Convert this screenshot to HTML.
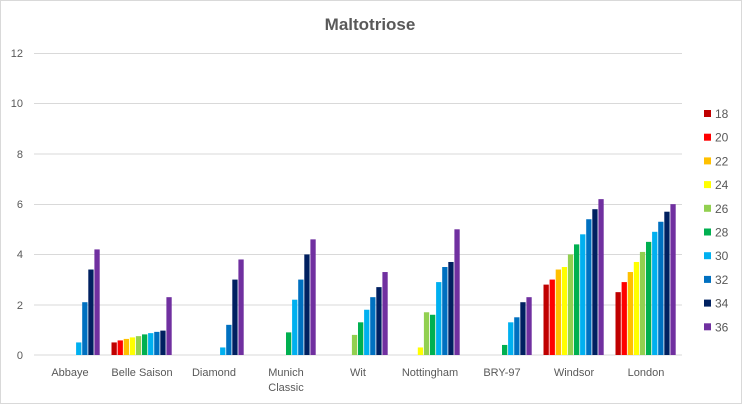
<!DOCTYPE html>
<html><head><meta charset="utf-8"><style>
html,body{margin:0;padding:0;background:#fff;}
svg{display:block;font-family:"Liberation Sans",sans-serif;}
</style></head><body>
<svg width="742" height="404" viewBox="0 0 742 404" xmlns="http://www.w3.org/2000/svg">
<rect x="0.5" y="0.5" width="741" height="403" fill="#fff" stroke="#d9d9d9"/>
<text x="370" y="30" text-anchor="middle" font-size="17" font-weight="bold" fill="#595959">Maltotriose</text>
<g stroke="#d9d9d9" stroke-width="1">
<line x1="34" x2="682" y1="53.5" y2="53.5"/>
<line x1="34" x2="682" y1="103.5" y2="103.5"/>
<line x1="34" x2="682" y1="154" y2="154"/>
<line x1="34" x2="682" y1="204.5" y2="204.5"/>
<line x1="34" x2="682" y1="254.5" y2="254.5"/>
<line x1="34" x2="682" y1="305" y2="305"/>
<line x1="34" x2="682" y1="355" y2="355"/>
</g>
<g font-size="11" fill="#595959" text-anchor="end">
<text x="23" y="57">12</text><text x="23" y="107">10</text><text x="23" y="158">8</text>
<text x="23" y="208">6</text><text x="23" y="258">4</text><text x="23" y="309">2</text><text x="23" y="359">0</text>
</g>
<g font-size="11" fill="#595959" text-anchor="middle">
<text x="70" y="376">Abbaye</text><text x="142" y="376">Belle Saison</text><text x="214" y="376">Diamond</text>
<text x="286" y="376">Munich</text><text x="286" y="391">Classic</text>
<text x="358" y="376">Wit</text><text x="430" y="376">Nottingham</text><text x="502" y="376">BRY-97</text>
<text x="574" y="376">Windsor</text><text x="646" y="376">London</text>
</g>
<g transform="translate(0,355) scale(1,-25.14)">
<g transform="translate(39.5,0)">
<rect x="36.6" width="5.3" height="0.5" fill="#00B0F0"/><rect x="42.7" width="5.3" height="2.1" fill="#0070C0"/><rect x="48.8" width="5.3" height="3.4" fill="#002060"/><rect x="54.9" width="5.3" height="4.2" fill="#7030A0"/>
</g>
<g transform="translate(111.5,0)">
<rect x="0" width="5.3" height="0.5" fill="#C00000"/><rect x="6.1" width="5.3" height="0.58" fill="#FF0000"/><rect x="12.2" width="5.3" height="0.64" fill="#FFC000"/><rect x="18.3" width="5.3" height="0.7" fill="#FFFF00"/><rect x="24.4" width="5.3" height="0.75" fill="#92D050"/><rect x="30.5" width="5.3" height="0.82" fill="#00B050"/><rect x="36.6" width="5.3" height="0.87" fill="#00B0F0"/><rect x="42.7" width="5.3" height="0.92" fill="#0070C0"/><rect x="48.8" width="5.3" height="0.97" fill="#002060"/><rect x="54.9" width="5.3" height="2.3" fill="#7030A0"/>
</g>
<g transform="translate(183.5,0)">
<rect x="36.6" width="5.3" height="0.3" fill="#00B0F0"/><rect x="42.7" width="5.3" height="1.2" fill="#0070C0"/><rect x="48.8" width="5.3" height="3.0" fill="#002060"/><rect x="54.9" width="5.3" height="3.8" fill="#7030A0"/>
</g>
<g transform="translate(255.5,0)">
<rect x="30.5" width="5.3" height="0.9" fill="#00B050"/><rect x="36.6" width="5.3" height="2.2" fill="#00B0F0"/><rect x="42.7" width="5.3" height="3.0" fill="#0070C0"/><rect x="48.8" width="5.3" height="4.0" fill="#002060"/><rect x="54.9" width="5.3" height="4.6" fill="#7030A0"/>
</g>
<g transform="translate(327.5,0)">
<rect x="24.4" width="5.3" height="0.8" fill="#92D050"/><rect x="30.5" width="5.3" height="1.3" fill="#00B050"/><rect x="36.6" width="5.3" height="1.8" fill="#00B0F0"/><rect x="42.7" width="5.3" height="2.3" fill="#0070C0"/><rect x="48.8" width="5.3" height="2.7" fill="#002060"/><rect x="54.9" width="5.3" height="3.3" fill="#7030A0"/>
</g>
<g transform="translate(399.5,0)">
<rect x="18.3" width="5.3" height="0.3" fill="#FFFF00"/><rect x="24.4" width="5.3" height="1.7" fill="#92D050"/><rect x="30.5" width="5.3" height="1.6" fill="#00B050"/><rect x="36.6" width="5.3" height="2.9" fill="#00B0F0"/><rect x="42.7" width="5.3" height="3.5" fill="#0070C0"/><rect x="48.8" width="5.3" height="3.7" fill="#002060"/><rect x="54.9" width="5.3" height="5.0" fill="#7030A0"/>
</g>
<g transform="translate(471.5,0)">
<rect x="30.5" width="5.3" height="0.4" fill="#00B050"/><rect x="36.6" width="5.3" height="1.3" fill="#00B0F0"/><rect x="42.7" width="5.3" height="1.5" fill="#0070C0"/><rect x="48.8" width="5.3" height="2.1" fill="#002060"/><rect x="54.9" width="5.3" height="2.3" fill="#7030A0"/>
</g>
<g transform="translate(543.5,0)">
<rect x="0" width="5.3" height="2.8" fill="#C00000"/><rect x="6.1" width="5.3" height="3.0" fill="#FF0000"/><rect x="12.2" width="5.3" height="3.4" fill="#FFC000"/><rect x="18.3" width="5.3" height="3.5" fill="#FFFF00"/><rect x="24.4" width="5.3" height="4.0" fill="#92D050"/><rect x="30.5" width="5.3" height="4.4" fill="#00B050"/><rect x="36.6" width="5.3" height="4.8" fill="#00B0F0"/><rect x="42.7" width="5.3" height="5.4" fill="#0070C0"/><rect x="48.8" width="5.3" height="5.8" fill="#002060"/><rect x="54.9" width="5.3" height="6.2" fill="#7030A0"/>
</g>
<g transform="translate(615.5,0)">
<rect x="0" width="5.3" height="2.5" fill="#C00000"/><rect x="6.1" width="5.3" height="2.9" fill="#FF0000"/><rect x="12.2" width="5.3" height="3.3" fill="#FFC000"/><rect x="18.3" width="5.3" height="3.7" fill="#FFFF00"/><rect x="24.4" width="5.3" height="4.1" fill="#92D050"/><rect x="30.5" width="5.3" height="4.5" fill="#00B050"/><rect x="36.6" width="5.3" height="4.9" fill="#00B0F0"/><rect x="42.7" width="5.3" height="5.3" fill="#0070C0"/><rect x="48.8" width="5.3" height="5.7" fill="#002060"/><rect x="54.9" width="5.3" height="6.0" fill="#7030A0"/>
</g>
</g>
<g font-size="12" fill="#595959">
<rect x="704" y="110" width="7" height="7" fill="#C00000"/><text x="715" y="118">18</text>
<rect x="704" y="133.7" width="7" height="7" fill="#FF0000"/><text x="715" y="141.7">20</text>
<rect x="704" y="157.4" width="7" height="7" fill="#FFC000"/><text x="715" y="165.4">22</text>
<rect x="704" y="181.1" width="7" height="7" fill="#FFFF00"/><text x="715" y="189.1">24</text>
<rect x="704" y="204.8" width="7" height="7" fill="#92D050"/><text x="715" y="212.8">26</text>
<rect x="704" y="228.5" width="7" height="7" fill="#00B050"/><text x="715" y="236.5">28</text>
<rect x="704" y="252.2" width="7" height="7" fill="#00B0F0"/><text x="715" y="260.2">30</text>
<rect x="704" y="275.9" width="7" height="7" fill="#0070C0"/><text x="715" y="283.9">32</text>
<rect x="704" y="299.6" width="7" height="7" fill="#002060"/><text x="715" y="307.6">34</text>
<rect x="704" y="323.3" width="7" height="7" fill="#7030A0"/><text x="715" y="331.3">36</text>
</g>
</svg>
</body></html>
